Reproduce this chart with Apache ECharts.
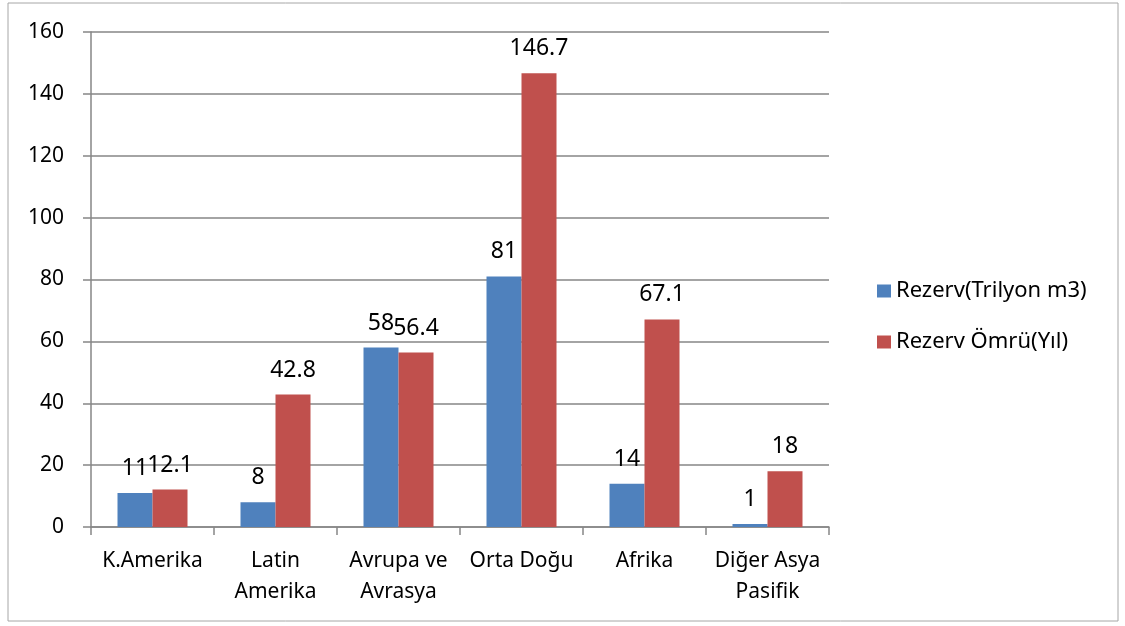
<!DOCTYPE html>
<html>
<head>
<meta charset="utf-8">
<script src="https://cdn.jsdelivr.net/npm/echarts@6/dist/echarts.min.js"></script>
<style>
  html, body { margin: 0; padding: 0; background: #fff; }
  #chart { width: 1125px; height: 626px; }
</style>
</head>
<body>
<div id="chart"></div>
<script>
// bolge isimleri (x ekseni)
const categories = ['K.Amerika', 'Latin\nAmerika', 'Avrupa ve\nAvrasya', 'Orta Doğu', 'Afrika', 'Diğer Asya\nPasifik']
const reserve = [11, 8, 58, 81, 14, 1]
const reserveLife = [12.1, 42.8, 56.4, 146.7, 67.1, 18]
const seriesNames = ['Rezerv(Trilyon m3)', 'Rezerv Ömrü(Yıl)']

const font = 'Noto Sans'
const gray = '#868686'

let myChart = echarts.init(document.getElementById('chart'))
myChart.setOption({
  backgroundColor: '#fff',
  animation: false,
  textStyle: { fontFamily: font },
  graphic: [{
    type: 'rect',
    shape: { x: 8, y: 3, width: 1110, height: 618 },
    style: { fill: 'none', stroke: '#a6a6a6', lineWidth: 1 },
    silent: true
  }],
  grid: {
    left: 91,
    right: 296,
    top: 32,
    bottom: 99
  },
  legend: {
    orient: 'vertical',
    left: 872,
    top: 275,
    icon: 'rect',
    itemWidth: 14,
    itemHeight: 13,
    itemGap: 29,
    textStyle: { fontSize: 22, color: '#000', fontFamily: font }
  },
  xAxis: {
    type: 'category',
    data: categories,
    axisLine: { lineStyle: { color: gray, width: 1.5 } },
    axisTick: { show: true, length: 8, lineStyle: { color: gray, width: 1.5 } },
    axisLabel: {
      color: '#000',
      fontSize: 21,
      lineHeight: 31,
      margin: 19,
      interval: 0,
      fontFamily: font
    }
  },
  yAxis: {
    type: 'value',
    min: 0,
    max: 160,
    interval: 20,
    axisLine: { show: true, lineStyle: { color: gray, width: 1.5 } },
    axisTick: { show: true, length: 8, lineStyle: { color: gray, width: 1.5 } },
    splitLine: { lineStyle: { color: gray, width: 1.5 } },
    axisLabel: { color: '#000', fontSize: 21, margin: 27, fontFamily: font }
  },
  series: [
    {
      name: seriesNames[0],
      type: 'bar',
      data: reserve,
      barWidth: 35,
      barGap: '0%',
      itemStyle: { color: '#4F81BD' },
      label: { show: true, position: 'top', distance: 13, fontSize: 23, color: '#000', fontFamily: font }
    },
    {
      name: seriesNames[1],
      type: 'bar',
      data: reserveLife,
      barWidth: 35,
      barGap: '0%',
      itemStyle: { color: '#C0504D' },
      label: { show: true, position: 'top', distance: 13, fontSize: 23, color: '#000', fontFamily: font }
    }
  ]
})
</script>
</body>
</html>
